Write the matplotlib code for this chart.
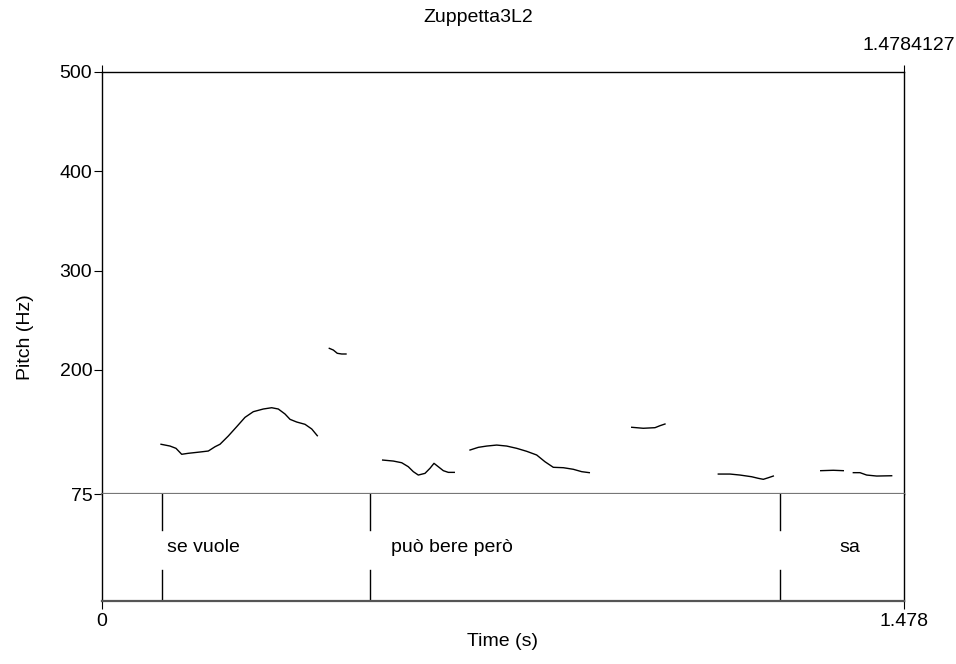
import matplotlib
matplotlib.use("Agg")
import matplotlib.pyplot as plt

plt.rcParams['font.family'] = ['Liberation Sans', 'DejaVu Sans']
plt.rcParams['font.size'] = 14

t_end = 1.4784127

# pitch contours (time s, pitch Hz), one pair of lists per voiced stretch
t1 = [0.1088, 0.1254, 0.1364, 0.1469, 0.1591, 0.1807, 0.1960, 0.2083, 0.2175, 0.2328, 0.2483,
      0.2636, 0.2789, 0.2973, 0.3128, 0.3250, 0.3373, 0.3466, 0.3589, 0.3742, 0.3866, 0.3969]
f1 = [125.1, 123.3, 121.0, 115.0, 116.0, 117.3, 118.3, 122.6, 125.1, 133.4, 142.8,
      152.2, 157.9, 160.6, 161.9, 160.6, 155.6, 150.2, 147.5, 145.2, 140.5, 133.7]
t2 = [0.4190, 0.4264, 0.4337, 0.4419, 0.4498]
f2 = [221.7, 220.0, 216.7, 216.0, 216.0]
t3 = [0.5174, 0.5370, 0.5525, 0.5646, 0.5739, 0.5831, 0.5954, 0.6046, 0.6120, 0.6199, 0.6292, 0.6384, 0.6494]
f3 = [109.2, 108.2, 106.5, 102.5, 97.5, 94.1, 95.8, 100.9, 105.9, 102.5, 98.5, 96.8, 96.8]
t4 = [0.6784, 0.6937, 0.7092, 0.7276, 0.7460, 0.7645, 0.7829, 0.8013, 0.8166, 0.8319, 0.8504, 0.8688, 0.8843, 0.8983]
f4 = [119.3, 122.0, 123.3, 124.3, 123.3, 121.0, 118.0, 114.3, 107.5, 101.9, 101.5, 99.9, 97.5, 96.5]
t5 = [0.9765, 0.9978, 1.0194, 1.0286, 1.0378]
f5 = [142.2, 141.2, 141.8, 143.8, 145.5]
t6 = [1.1361, 1.1577, 1.1761, 1.1976, 1.2098, 1.2191, 1.2283, 1.2375]
f6 = [95.1, 95.1, 94.1, 92.4, 90.8, 89.8, 91.4, 93.1]
t7 = [1.3249, 1.3481, 1.3665]
f7 = [98.5, 98.9, 98.5]
t8 = [1.3850, 1.3973, 1.4096, 1.4281, 1.4557]
f8 = [96.5, 96.5, 94.1, 93.1, 93.4]
contours = [(t1, f1), (t2, f2), (t3, f3), (t4, f4), (t5, f5), (t6, f6), (t7, f7), (t8, f8)]

yticks = [75, 200, 300, 400, 500]

# text grid tier
boundaries = [0.1106, 0.4940, 1.2498]
labels = ["se vuole", "può bere però", "sa"]
label_t = [0.120, 0.533, 1.359]

fig = plt.figure(figsize=(9.56, 6.64), dpi=100)
ax = fig.add_axes([0.1067, 0.2560, 0.8389, 0.6356])
tier = fig.add_axes([0.1067, 0.0949, 0.8389, 0.1611])

for t, f in contours:
    ax.plot(t, f, color='black', lw=1.0)

ax.set_xlim(0, t_end)
ax.set_ylim(75, 500)
ax.set_yticks(yticks)
ax.set_yticklabels([str(v) for v in yticks])
ax.set_xticks([0, t_end])
ax.tick_params(axis='x', bottom=False, labelbottom=False, top=True, labeltop=False,
               direction='out', length=5)
ax.tick_params(axis='y', direction='out', length=6, pad=1)
for s in ['top', 'left', 'right']:
    ax.spines[s].set_color('black')
    ax.spines[s].set_linewidth(1.0)
ax.spines['bottom'].set_color('#777777')
ax.spines['bottom'].set_linewidth(1.6)

tier.set_xlim(0, t_end)
tier.set_ylim(0, 1)
tier.set_yticks([])
tier.set_xticks([0, t_end])
tier.set_xticklabels(['0', '1.478'])
tier.tick_params(axis='x', direction='out', length=6, pad=3)
tier.set_xlabel('Time (s)', labelpad=2)
tier.spines['top'].set_visible(False)
tier.spines['bottom'].set_color('#555555')
tier.spines['bottom'].set_linewidth(1.6)
for s in ['left', 'right']:
    tier.spines[s].set_color('black')
    tier.spines[s].set_linewidth(1.0)
for b in boundaries:
    tier.plot([b, b], [0, 0.29], color='black', lw=1.0)
    tier.plot([b, b], [0.66, 1], color='black', lw=1.0)
for lab, lt in zip(labels, label_t):
    tier.text(lt, 0.5, lab, ha='left', va='center')

# y label is centred on pitch panel + tier together, as Praat draws it
fig.text(25 / 956, 1 - 337 / 664, 'Pitch (Hz)', rotation=90, ha='center', va='center')
fig.text(478 / 956, 1 - 18 / 664, 'Zuppetta3L2', ha='center', va='center')
fig.text(0.999, 1 - 46 / 664, '1.4784127', ha='right', va='center')

fig.savefig('out.png', dpi=100)
